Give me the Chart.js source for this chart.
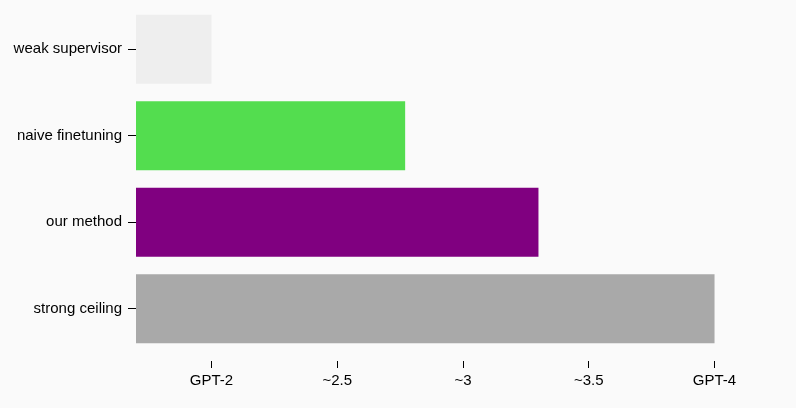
<!DOCTYPE html>
<html lang="en">
<head>
  <meta charset="UTF-8">
  <title>Weak-to-strong bars</title>
  <style>
    html, body { margin: 0; padding: 0; background: #fafafa; }
    .chart-box { width: 796px; height: 408px; }
  </style>
  <script src="https://cdn.jsdelivr.net/npm/chart.js"></script>
</head>
<body>
  <div class="chart-box"><canvas id="barChart"></canvas></div>

  <script>
    // data
    const categories = ['weak supervisor', 'naive finetuning', 'our method', 'strong ceiling'];
    const scores = [2.0, 2.77, 3.3, 4.0];
    const barColors = ['#eeeeee', '#53dd4f', '#800080', '#a9a9a9'];
    const tickValues = [2, 2.5, 3, 3.5, 4];
    const tickLabels = ['GPT-2', '~2.5', '~3', '~3.5', 'GPT-4'];

    const font = { family: 'Liberation Sans, Arial, sans-serif', size: 15 };

    new Chart(document.getElementById('barChart'), {
      type: 'bar',
      data: {
        labels: categories,
        datasets: [{
          data: scores,
          backgroundColor: barColors,
          borderWidth: 0,
          categoryPercentage: 1,
          barPercentage: 0.8
        }]
      },
      options: {
        indexAxis: 'y',
        responsive: true,
        maintainAspectRatio: false,
        animation: false,
        layout: { padding: { top: 6, right: 6, bottom: 0, left: 0 } },
        plugins: { legend: { display: false }, tooltip: { enabled: false } },
        scales: {
          x: {
            min: 1.7,
            max: 4.3,
            afterBuildTicks: function(scale) {
              scale.ticks = tickValues.map(v => ({ value: v }));
            },
            afterFit: function(scale) {
              scale.height = 56;
              scale.paddingLeft = 0;
              scale.paddingRight = 0;
            },
            ticks: {
              color: '#000',
              font: font,
              padding: 4,
              autoSkip: false,
              maxRotation: 0,
              callback: function(value) {
                const i = tickValues.indexOf(value);
                return i >= 0 ? tickLabels[i] : '';
              }
            },
            grid: {
              drawOnChartArea: false,
              drawTicks: true,
              tickLength: 16,
              tickColor: '#000',
              tickWidth: 1,
              tickBorderDash: [0, 9, 7, 0]
            },
            border: { display: false }
          },
          y: {
            afterFit: function(scale) {
              scale.width = 136;
              scale.paddingTop = 0;
              scale.paddingBottom = 0;
            },
            ticks: { color: '#000', font: font, padding: 6 },
            grid: {
              offset: false,
              drawOnChartArea: false,
              drawTicks: true,
              tickLength: 8,
              tickColor: '#000',
              tickWidth: 1
            },
            border: { display: false }
          }
        }
      }
    });
  </script>
</body>
</html>
